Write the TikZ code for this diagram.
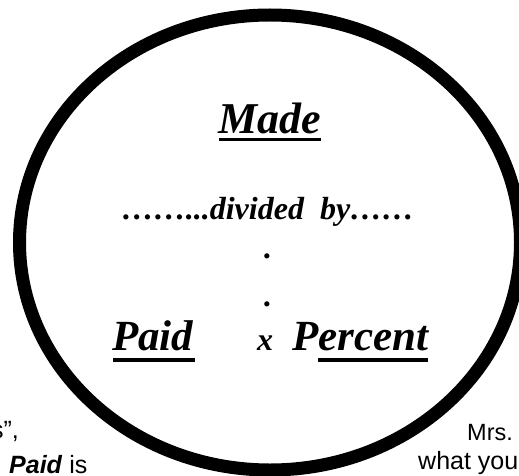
\documentclass[tikz,border=0pt]{standalone}
\usepackage{fontspec}
\setmainfont{Liberation Serif}
\newfontfamily\arialfont{Liberation Sans}
\tikzset{
  big/.style={inner sep=0pt, anchor=base west, font=\fontsize{44}{50}\selectfont\bfseries\itshape},
  mid/.style={inner sep=0pt, anchor=base, font=\fontsize{32}{38}\selectfont\bfseries\itshape},
  side/.style={inner sep=0pt, font=\fontsize{25}{29}\selectfont\arialfont},
  uline/.style={fill=black, draw=none},
  ring/.style={draw=black, fill=white, line width=13pt}
}
\begin{document}
\begin{tikzpicture}[x=1pt, y=-1pt]
\useasboundingbox (0,0) rectangle (519,476);
\clip (0,0) rectangle (519,476);
% side texts (partly hidden)
\node[side, anchor=base east] (t1) at (19,438) {s”,};
\node[side, anchor=base west] (t2) at (9,473) {\textbf{\textit{Paid}} is};
\node[side, anchor=base west, font=\fontsize{23.5}{28}\selectfont\arialfont] (t3) at (467,440) {Mrs.};
\node[side, anchor=base west] (t4) at (418,469) {what you};
% the ring
\draw[ring] (270,242.5) ellipse [x radius=250.5, y radius=227.5];
% inner texts
\node[big] (made) at (218,133) {Made};
\fill[uline] (219,137.5) rectangle (321,141);
\node[mid] (div) at (268,219) {……...divided\ \ by……};
\node[mid] (d1) at (268,258) {.};
\node[mid] (d2) at (268,306) {.};
\node[big, font=\fontsize{43}{50}\selectfont\bfseries\itshape] (paid) at (112,350.5) {Paid};
\fill[uline] (113,357.5) rectangle (195,361.5);
\node[mid, anchor=base west] (x) at (257,350.5) {x};
\node[big, font=\fontsize{43}{50}\selectfont\bfseries\itshape] (pct) at (292,350.5) {Percent};
\fill[uline] (318,357.5) rectangle (428,361.5);
\end{tikzpicture}
\end{document}
